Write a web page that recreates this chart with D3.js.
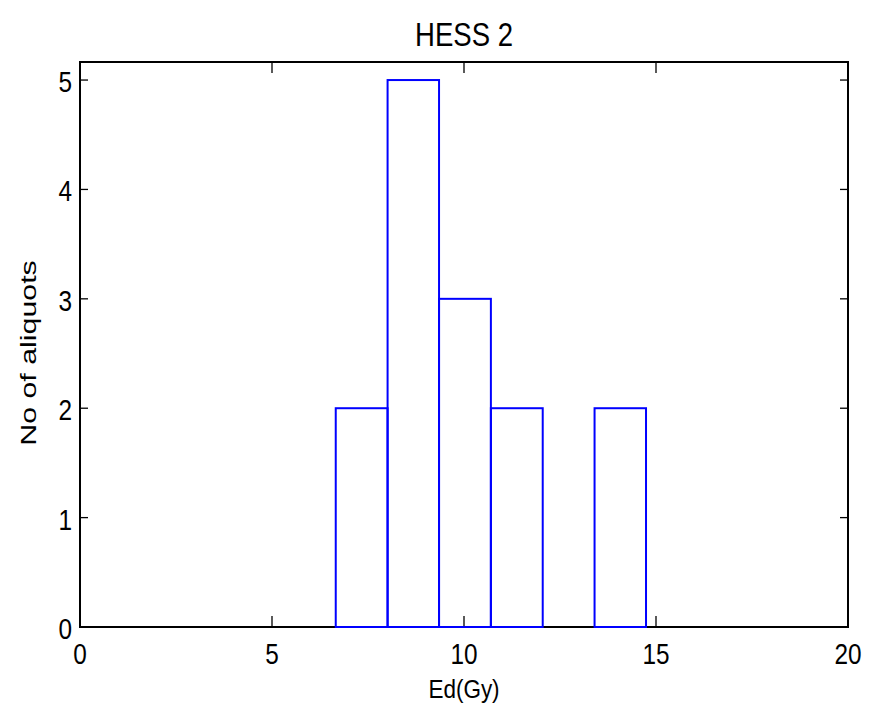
<!DOCTYPE html>
<html>
<head>
<meta charset="utf-8">
<script src="https://cdn.jsdelivr.net/npm/d3@7"></script>
<style>
  body { margin: 0; background: #fff; }
  text { font-family: "Liberation Sans", Arial, sans-serif; fill: #000; }
</style>
</head>
<body>
<svg id="chart"></svg>
<script>
// histogram data
const binEdges = [6.66, 8.01, 9.35, 10.70, 12.05, 13.40, 14.74];
const counts = [2, 5, 3, 2, 0, 2];
const xTicks = [0, 5, 10, 15, 20];
const yTicks = [0, 1, 2, 3, 4, 5];
const title = 'HESS 2';
const xLabel = 'Ed(Gy)';
const yLabel = 'No of aliquots';

const width = 878, height = 713;
const margin = {top: 62, right: 30, bottom: 86, left: 80};
const yMax = 5.165;

const svg = d3.select('#chart')
    .attr('width', width)
    .attr('height', height);

const x = d3.scaleLinear().domain([0, 20]).range([margin.left, width - margin.right]);
const y = d3.scaleLinear().domain([0, yMax]).range([height - margin.bottom, margin.top]);

const bins = counts.map((c, i) => ({x0: binEdges[i], x1: binEdges[i + 1], n: c}));

// axes box
svg.append('rect')
    .attr('x', x(0)).attr('y', y(yMax))
    .attr('width', x(20) - x(0)).attr('height', y(0) - y(yMax))
    .attr('fill', 'none').attr('stroke', '#000').attr('stroke-width', 2);

// inner ticks, all four sides
const tickG = svg.append('g').attr('stroke', '#000').attr('stroke-width', 1.3);
xTicks.forEach(t => {
    tickG.append('line').attr('x1', x(t)).attr('x2', x(t)).attr('y1', y(0)).attr('y2', y(0) - 11);
    tickG.append('line').attr('x1', x(t)).attr('x2', x(t)).attr('y1', y(yMax)).attr('y2', y(yMax) + 11);
});
yTicks.forEach(t => {
    tickG.append('line').attr('x1', x(0)).attr('x2', x(0) + 8).attr('y1', y(t)).attr('y2', y(t));
    tickG.append('line').attr('x1', x(20)).attr('x2', x(20) - 8).attr('y1', y(t)).attr('y2', y(t));
});

// tick labels
xTicks.forEach(t => {
    svg.append('text')
        .attr('transform', `translate(${x(t)},664) scale(0.84,1)`)
        .attr('text-anchor', 'middle')
        .style('font-size', '29px')
        .text(t);
});
yTicks.forEach(t => {
    svg.append('text')
        .attr('transform', `translate(72,${y(t) + 12}) scale(0.84,1)`)
        .attr('text-anchor', 'end')
        .style('font-size', '29px')
        .text(t);
});

// bars
svg.append('g').selectAll('rect')
    .data(bins)
    .join('rect')
    .attr('x', d => x(d.x0))
    .attr('y', d => y(d.n))
    .attr('width', d => x(d.x1) - x(d.x0))
    .attr('height', d => y(0) - y(d.n))
    .attr('fill', 'none')
    .attr('stroke', '#0000ff')
    .attr('stroke-width', 2);

// title and labels
svg.append('text')
    .attr('transform', `translate(${(x(0) + x(20)) / 2},46) scale(0.81,1)`)
    .attr('text-anchor', 'middle')
    .style('font-size', '34px')
    .text(title);

svg.append('text')
    .attr('transform', `translate(${(x(0) + x(20)) / 2},698) scale(0.9,1)`)
    .attr('text-anchor', 'middle')
    .style('font-size', '25px')
    .text(xLabel);

svg.append('text')
    .attr('transform', `translate(36,353) rotate(-90) scale(1.38,1)`)
    .attr('text-anchor', 'middle')
    .style('font-size', '22px')
    .text(yLabel);
</script>
</body>
</html>
